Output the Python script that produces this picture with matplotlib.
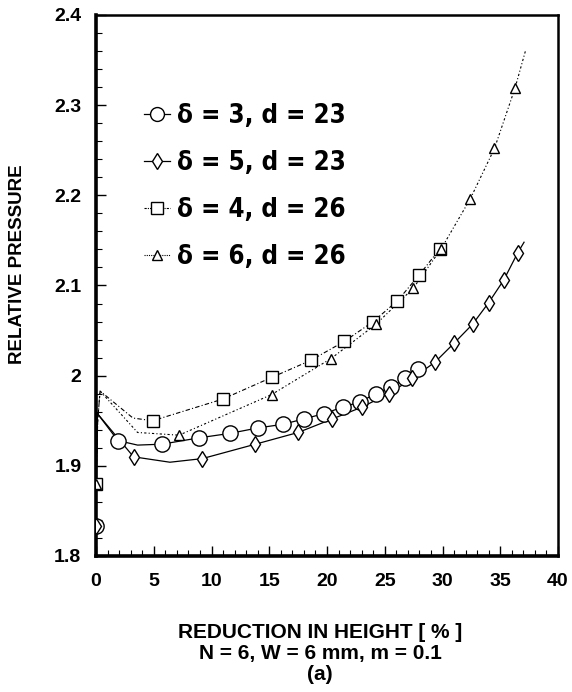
import matplotlib
matplotlib.use("Agg")
import matplotlib.pyplot as plt
from matplotlib.ticker import MultipleLocator, FormatStrFormatter
from matplotlib.lines import Line2D

# ---------------- data ----------------
labels = ["δ = 3, d = 23", "δ = 5, d = 23", "δ = 4, d = 26", "δ = 6, d = 26"]

# circle series (delta=3, d=23): markers
circ_x = [0.0, 1.9, 5.7, 8.9, 11.6, 14.0, 16.15, 18.0, 19.75, 21.35, 22.86, 24.24, 25.52, 26.75, 27.9]
circ_y = [1.833, 1.928, 1.924, 1.931, 1.936, 1.942, 1.946, 1.952, 1.958, 1.965, 1.971, 1.980, 1.987, 1.997, 2.007]
# circle series: fitted curve as drawn
circ_cx = [0.0, 0.05, 0.12, 1.9, 3.6, 5.7, 8.9, 11.6, 14.0, 16.15, 18.0, 19.75, 21.35, 22.86, 24.24, 25.52, 26.75, 27.9]
circ_cy = [1.833, 1.90, 1.958, 1.928, 1.923, 1.924, 1.931, 1.936, 1.942, 1.946, 1.952, 1.958, 1.965, 1.971, 1.980, 1.987, 1.997, 2.007]

# diamond series (delta=5, d=23)
diam_x = [0.0, 3.25, 9.2, 13.8, 17.5, 20.46, 23.0, 25.35, 27.4, 29.35, 31.0, 32.6, 34.0, 35.3, 36.5]
diam_y = [1.833, 1.910, 1.908, 1.924, 1.937, 1.952, 1.965, 1.980, 1.997, 2.015, 2.036, 2.057, 2.081, 2.106, 2.136]
diam_cx = [0.0, 0.05, 0.12, 3.25, 6.4, 9.2, 13.8, 17.5, 20.46, 23.0, 25.35, 27.4, 29.35, 31.0, 32.6, 34.0, 35.3, 36.5, 37.06]
diam_cy = [1.833, 1.90, 1.958, 1.910, 1.904, 1.908, 1.924, 1.937, 1.952, 1.965, 1.980, 1.997, 2.015, 2.036, 2.057, 2.081, 2.106, 2.136, 2.148]

# square series (delta=4, d=26)
sq_x = [0.0, 4.9, 10.97, 15.2, 18.6, 21.5, 24.0, 26.1, 28.0, 29.8]
sq_y = [1.880, 1.950, 1.974, 1.998, 2.017, 2.038, 2.060, 2.083, 2.112, 2.141]
sq_cx = [0.0, 0.15, 0.35, 3.2, 4.9, 10.97, 15.2, 18.6, 21.5, 24.0, 26.1, 28.0, 29.8, 30.2]
sq_cy = [1.880, 1.95, 1.983, 1.953, 1.950, 1.974, 1.998, 2.017, 2.038, 2.060, 2.083, 2.112, 2.141, 2.148]

# triangle series (delta=6, d=26)
tri_x = [0.0, 7.19, 15.2, 20.35, 24.24, 27.47, 29.9, 32.4, 34.5, 36.28]
tri_y = [1.880, 1.934, 1.979, 2.019, 2.057, 2.097, 2.141, 2.196, 2.252, 2.319]
tri_cx = [0.0, 0.15, 0.35, 3.6, 7.19, 15.2, 20.35, 24.24, 27.47, 29.9, 32.4, 34.5, 36.28, 37.2]
tri_cy = [1.880, 1.95, 1.983, 1.937, 1.934, 1.979, 2.019, 2.057, 2.097, 2.141, 2.196, 2.252, 2.319, 2.361]

x_ticks = [0, 5, 10, 15, 20, 25, 30, 35, 40]
y_ticks = [1.8, 1.9, 2.0, 2.1, 2.2, 2.3, 2.4]

xlabel_lines = ["REDUCTION IN HEIGHT [ % ]", "N = 6, W = 6 mm, m = 0.1", "(a)"]
ylabel = "RELATIVE PRESSURE"

# ---------------- figure ----------------
plt.rcParams['font.family'] = ['Liberation Sans', 'DejaVu Sans']
fig = plt.figure(figsize=(5.72, 6.92), dpi=100)
ax = fig.add_axes([96/572, 1-556/692, 462/572, 541/692])

series = [
    (circ_cx, circ_cy, circ_x, circ_y, 'o', 11, '-', 0.9),
    (diam_cx, diam_cy, diam_x, diam_y, 'd', 8.5, '-', 0.9),
    (sq_cx, sq_cy, sq_x, sq_y, 's', 8.5, (0, (4, 2, 1, 2)), 0.8),
    (tri_cx, tri_cy, tri_x, tri_y, '^', 6.5, (0, (2, 2, 1, 2)), 0.8),
]
for cx, cy, mx, my, mk, ms, ls, l in series:
    ax.plot(cx, cy, color='black', lw=l, ls=ls, zorder=2)
    ax.plot(mx, my, ls='none', marker=mk, ms=ms, mfc='white', mec='black', mew=1.0, zorder=3)

ax.set_xlim(0, 40)
ax.set_ylim(1.8, 2.4)
ax.set_xticks(x_ticks)
ax.set_yticks(y_ticks)
ax.xaxis.set_minor_locator(MultipleLocator(1))
ax.yaxis.set_minor_locator(MultipleLocator(0.02))
ax.yaxis.set_major_formatter(FormatStrFormatter('%g'))
ax.tick_params(which='major', direction='in', length=7, width=1.0, labelsize=14)
ax.tick_params(axis='x', which='major', pad=12)
ax.tick_params(axis='y', which='major', pad=10.5)
ax.tick_params(which='minor', direction='in', length=4, width=0.8)
for t in ax.get_xticklabels() + ax.get_yticklabels():
    t.set_fontweight('bold')
for s in ['left', 'bottom']:
    ax.spines[s].set_linewidth(2.6)
for s in ['top', 'right']:
    ax.spines[s].set_linewidth(1.8)

fig.text(18/572, 1-264/692, ylabel, rotation=90, ha='center', va='center',
         fontsize=13.5, fontweight='bold')
for i, line in enumerate(xlabel_lines):
    fig.text(320/572, 1-(633+20.5*i)/692, line, ha='center', va='center',
             fontsize=15, fontweight='bold')

handles = [
    Line2D([], [], color='black', lw=0.9, ls='-', marker='o', ms=10, mfc='white', mec='black'),
    Line2D([], [], color='black', lw=0.9, ls='-', marker='d', ms=8, mfc='white', mec='black'),
    Line2D([], [], color='black', lw=0.8, ls=(0, (2, 1, 1, 1)), marker='s', ms=8, mfc='white', mec='black'),
    Line2D([], [], color='black', lw=0.8, ls=(0, (1, 1)), marker='^', ms=7, mfc='white', mec='black'),
]
leg = ax.legend(handles, labels, loc='upper left', bbox_to_anchor=(48/462, (556-103)/541),
                frameon=False, borderpad=0, borderaxespad=0, handlelength=1.0,
                handletextpad=0.3, labelspacing=0.82,
                prop={'family': ['DejaVu Sans'], 'size': 18.5, 'weight': 'bold', 'stretch': 'condensed'})

fig.savefig('out.png', dpi=100)
